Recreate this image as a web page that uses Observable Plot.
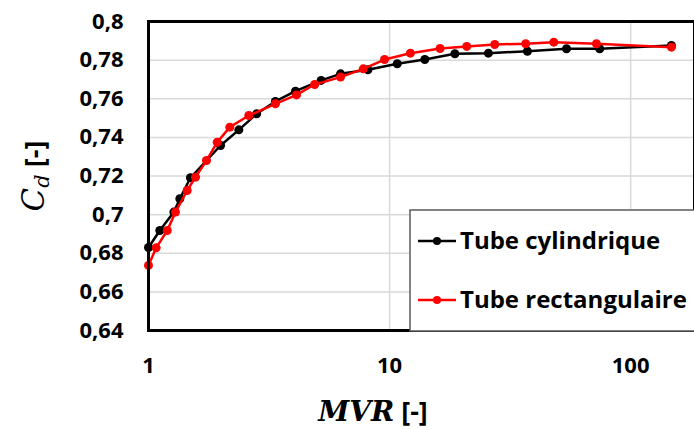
<!DOCTYPE html>
<html>
<head>
<meta charset="utf-8">
<script src="https://cdn.jsdelivr.net/npm/d3@7"></script>
<script src="https://cdn.jsdelivr.net/npm/@observablehq/plot@0.6"></script>
<style>
  body { margin: 0; background: #fff; }
  #wrap { position: relative; width: 694px; height: 430px; overflow: hidden; }
  .lbl { position: absolute; white-space: nowrap; color: #000; }
</style>
</head>
<body>
<div id="wrap"></div>
<script>
// MVR values and Cd for each series
const cylMVR = [1.0, 1.114, 1.274, 1.349, 1.493, 1.99, 2.37, 2.81, 3.36, 4.07, 5.2, 6.26, 8.13, 10.76, 14.0, 18.66, 25.7, 37.3, 54.2, 74.4, 147.6];
const cylCd  = [0.683, 0.6918, 0.7013, 0.7082, 0.7191, 0.7358, 0.7439, 0.7522, 0.7586, 0.7639, 0.7695, 0.7729, 0.775, 0.7781, 0.7803, 0.7833, 0.7836, 0.7846, 0.7859, 0.7859, 0.7876];
const recMVR = [1.0, 1.076, 1.196, 1.294, 1.447, 1.567, 1.74, 1.928, 2.174, 2.607, 3.363, 4.11, 4.89, 6.26, 7.78, 9.53, 12.2, 16.2, 20.9, 27.3, 36.7, 48.0, 72.1, 147.6];
const recCd  = [0.6737, 0.6828, 0.6918, 0.7013, 0.7125, 0.7194, 0.728, 0.7375, 0.7453, 0.7513, 0.7574, 0.762, 0.7674, 0.7712, 0.7755, 0.7803, 0.7836, 0.786, 0.7871, 0.7881, 0.7885, 0.7893, 0.7885, 0.7867];
const seriesNames = ["Tube cylindrique", "Tube rectangulaire"];
const seriesColors = ["#000000", "#ff0000"];
const xTicks = [1, 10, 100];
const yTicks = [0.64, 0.66, 0.68, 0.70, 0.72, 0.74, 0.76, 0.78, 0.80];

const cyl = cylMVR.map((x, i) => ({x, y: cylCd[i]}));
const rec = recMVR.map((x, i) => ({x, y: recCd[i]}));

const FONT = "'Open Sans', Lato, sans-serif";
const chart = Plot.plot({
  width: 694, height: 430,
  marginTop: 21, marginBottom: 100, marginLeft: 148, marginRight: 0,
  style: { fontFamily: FONT, fontWeight: "bold", fontSize: "22px", color: "#000", background: "#fff" },
  x: { type: "log", domain: [1, 184], ticks: xTicks, tickFormat: d => String(d), tickSize: 0, tickPadding: 27, label: null },
  y: { domain: [0.64, 0.8], ticks: yTicks, tickFormat: d => String(+d.toFixed(2)).replace(".", ","), tickSize: 0, tickPadding: 25, label: null },
  marks: [
    Plot.gridY(yTicks, { stroke: "#d9d9d9", strokeOpacity: 1, strokeWidth: 1.5 }),
    Plot.gridX([10, 100], { stroke: "#d9d9d9", strokeOpacity: 1, strokeWidth: 1.5 }),
    Plot.line(cyl, { x: "x", y: "y", stroke: seriesColors[0], strokeWidth: 2.5 }),
    Plot.dot(cyl, { x: "x", y: "y", r: 4.5, fill: seriesColors[0] }),
    Plot.line(rec, { x: "x", y: "y", stroke: seriesColors[1], strokeWidth: 2.5 }),
    Plot.dot(rec, { x: "x", y: "y", r: 4.5, fill: seriesColors[1] }),
    Plot.frame({ stroke: "#000", strokeWidth: 3 })
  ]
});
const wrap = document.getElementById("wrap");
wrap.appendChild(chart);

// Axis titles
const yl = document.createElement("div");
yl.className = "lbl";
yl.style.cssText += "left:34px;top:176px;transform:translate(-50%,-50%) rotate(-90deg);font-size:31px;";
yl.innerHTML = '<span style="font-family:\'DejaVu Serif\',serif;font-style:italic;">C<sub style="font-size:21px;vertical-align:-5px;">d</sub></span><span style="font-family:' + FONT.replace(/'/g, "&#39;") + ';font-weight:bold;font-size:27px;"> [-]</span>';
wrap.appendChild(yl);

const xl = document.createElement("div");
xl.className = "lbl";
xl.style.cssText += "left:373px;top:410px;transform:translate(-50%,-50%);font-size:28px;";
xl.innerHTML = '<span style="font-family:\'DejaVu Serif\',serif;font-style:italic;font-weight:bold;">MVR</span><span style="font-family:' + FONT.replace(/'/g, "&#39;") + ';font-weight:bold;font-size:27px;"> [-]</span>';
wrap.appendChild(xl);

// Legend
const ns = "http://www.w3.org/2000/svg";
const lg = document.createElementNS(ns, "svg");
lg.setAttribute("width", 300); lg.setAttribute("height", 130);
lg.style.cssText = "position:absolute;left:409px;top:209px;";
const box = document.createElementNS(ns, "rect");
box.setAttribute("x", 1); box.setAttribute("y", 1); box.setAttribute("width", 320); box.setAttribute("height", 121);
box.setAttribute("fill", "#fff"); box.setAttribute("stroke", "#595959"); box.setAttribute("stroke-width", 1.5);
lg.appendChild(box);
const rowsY = [32, 91];
seriesNames.forEach((name, i) => {
  const y = rowsY[i];
  const ln = document.createElementNS(ns, "line");
  ln.setAttribute("x1", 9); ln.setAttribute("x2", 47); ln.setAttribute("y1", y); ln.setAttribute("y2", y);
  ln.setAttribute("stroke", seriesColors[i]); ln.setAttribute("stroke-width", 2.5);
  lg.appendChild(ln);
  const c = document.createElementNS(ns, "circle");
  c.setAttribute("cx", 28); c.setAttribute("cy", y); c.setAttribute("r", 4);
  c.setAttribute("fill", seriesColors[i]);
  lg.appendChild(c);
  const t = document.createElementNS(ns, "text");
  t.setAttribute("x", 51); t.setAttribute("y", y); t.setAttribute("dy", "0.35em");
  t.setAttribute("font-family", FONT); t.setAttribute("font-weight", "bold"); t.setAttribute("font-size", 24);
  t.textContent = name;
  lg.appendChild(t);
});
wrap.appendChild(lg);
</script>
</body>
</html>
